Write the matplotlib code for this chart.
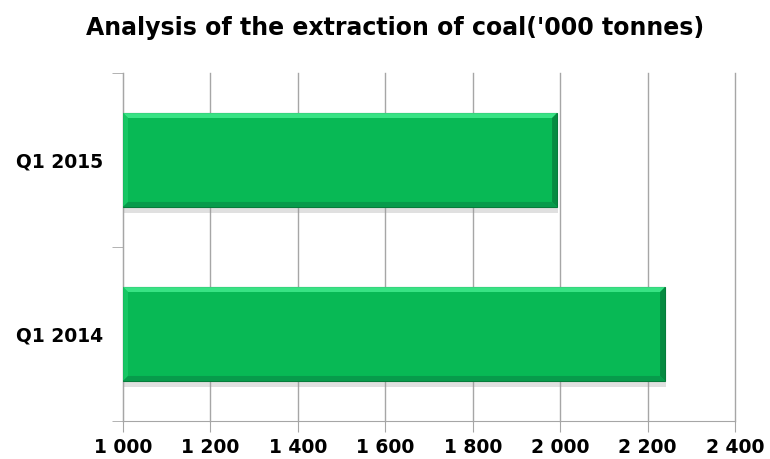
import matplotlib.pyplot as plt
import matplotlib.patheffects as pe
from matplotlib.patches import Polygon

# Data
periods = ['Q1 2014', 'Q1 2015']
coal = [2240, 1993]

# Axis setup
xticks = [1000, 1200, 1400, 1600, 1800, 2000, 2200, 2400]
xtick_labels = ['1 000', '1 200', '1 400', '1 600', '1 800', '2 000', '2 200', '2 400']

bar_green = '#08B955'
light_green = '#45EE91'
dark_green = '#067C3B'

fig = plt.figure(figsize=(7.7, 4.59), dpi=100)
ax = fig.add_axes([123 / 770, 1 - 421 / 459, (735 - 123) / 770, (421 - 73) / 459])

ax.set_xlim(1000, 2400)
ax.set_ylim(-0.5, 1.5)

ax.grid(axis='x', color='#A6A6A6', linewidth=1.0)
for gl in ax.get_xgridlines():
    gl.set_clip_on(False)
ax.set_axisbelow(True)

ypos = list(range(len(periods)))
height = 0.54
bars = ax.barh(ypos, [v - 1000 for v in coal], left=1000, height=height,
               color=bar_green, edgecolor=dark_green, linewidth=0.8, zorder=3)
for b in bars:
    b.set_path_effects([pe.SimplePatchShadow(offset=(1, -4), shadow_rgbFace='#999999', alpha=0.3),
                        pe.Normal()])

# bevel edges, sized in data units from the axes scale
px_x = (2400 - 1000) / 612
px_y = 2 / 348
bw = 5
for b in bars:
    x0, y0 = b.get_x(), b.get_y()
    x1, y1 = x0 + b.get_width(), y0 + b.get_height()
    dx, dy = bw * px_x, bw * px_y
    top = Polygon([(x0, y1), (x1, y1), (x1 - dx, y1 - dy), (x0 + dx, y1 - dy)],
                  closed=True, color=light_green, alpha=0.8, lw=0, zorder=4)
    left = Polygon([(x0, y0), (x0, y1), (x0 + dx, y1 - dy), (x0 + dx, y0 + dy)],
                   closed=True, color='#1CCB69', alpha=0.8, lw=0, zorder=4)
    right = Polygon([(x1, y0), (x1, y1), (x1 - dx, y1 - dy), (x1 - dx, y0 + dy)],
                    closed=True, color=dark_green, alpha=0.75, lw=0, zorder=4)
    bottom = Polygon([(x0, y0), (x1, y0), (x1 - dx, y0 + dy), (x0 + dx, y0 + dy)],
                     closed=True, color='#07964A', alpha=0.85, lw=0, zorder=4)
    for p in (top, left, right, bottom):
        ax.add_patch(p)

ax.set_xticks(xticks)
ax.set_xticklabels(xtick_labels, fontsize=13.5, fontweight='bold')
ax.set_yticks(ypos)
ax.set_yticklabels(periods, fontsize=13.5, fontweight='bold')
ax.set_yticks([-0.5, 0.5, 1.5], minor=True)

ax.tick_params(axis='x', length=8, color='#A6A6A6', pad=4)
ax.tick_params(axis='y', which='major', length=0, pad=14)
ax.tick_params(axis='y', which='minor', length=8, color='#A6A6A6')

for s in ['top', 'right']:
    ax.spines[s].set_visible(False)
for s in ['left', 'bottom']:
    ax.spines[s].set_color('#A6A6A6')

fig.suptitle("Analysis of the extraction of coal('000 tonnes)", x=0.513, y=0.965,
             fontsize=17, fontweight='bold')

fig.savefig('out.png', dpi=100)
